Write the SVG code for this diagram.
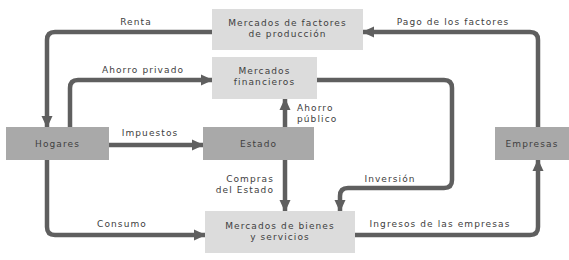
<svg xmlns="http://www.w3.org/2000/svg" width="569" height="260" viewBox="0 0 569 260">
<style>
.lt{fill:#dcdcdc}
.dk{fill:#a9a9a9}
.t{font-family:"DejaVu Sans",sans-serif;font-size:9px;letter-spacing:1.1px;fill:#404040}
.c{text-anchor:middle}
.e{text-anchor:end}
.ln{fill:none;stroke:#5f5f5f;stroke-width:4.5;stroke-linejoin:round;marker-end:url(#ah)}
</style>
<defs>
<marker id="ah" markerUnits="userSpaceOnUse" viewBox="0 0 12 12" refX="11" refY="6" markerWidth="12" markerHeight="12" orient="auto">
<path d="M0,0.5 L12,6 L0,11.5 Z" fill="#5f5f5f"/>
</marker>
</defs>
<rect width="569" height="260" fill="#fff"/>
<g id="connectors">
<path class="ln" d="M212,32 H55 Q47,32 47,40 V127"/>
<path class="ln" d="M70,127 V88 Q70,80 78,80 H212"/>
<path class="ln" d="M538,127 V40 Q538,32 530,32 H363"/>
<path class="ln" d="M317,80 H444 Q452,80 452,88 V180 Q452,188 444,188 H348 Q340,188 340,196 V211"/>
<path class="ln" d="M285,127 V99"/>
<path class="ln" d="M109,145 H203"/>
<path class="ln" d="M285,160 V211"/>
<path class="ln" d="M47,160 V227 Q47,235 55,235 H205"/>
<path class="ln" d="M355,235 H530 Q538,235 538,227 V160"/>
</g>
<g id="mercados-factores"><rect class="lt" x="212" y="9" width="151" height="41"/><text class="t c" x="287.5" y="26">Mercados de factores</text><text class="t c" x="287.5" y="37">de producción</text></g>
<g id="mercados-financieros"><rect class="lt" x="212" y="57" width="105" height="42"/><text class="t c" x="264.5" y="74">Mercados</text><text class="t c" x="264.5" y="85">financieros</text></g>
<g id="hogares"><rect class="dk" x="6" y="127" width="103" height="33"/><text class="t c" x="57.5" y="147">Hogares</text></g>
<g id="estado"><rect class="dk" x="203" y="127" width="111" height="33"/><text class="t c" x="258.5" y="147">Estado</text></g>
<g id="empresas"><rect class="dk" x="495" y="127" width="74" height="33"/><text class="t c" x="532" y="147">Empresas</text></g>
<g id="mercados-bienes"><rect class="lt" x="205" y="211" width="150" height="42"/><text class="t c" x="280" y="229">Mercados de bienes</text><text class="t c" x="280" y="240">y servicios</text></g>
<g id="labels">
<text class="t c" x="136" y="25">Renta</text>
<text class="t c" x="143" y="73">Ahorro privado</text>
<text class="t c" x="453" y="25">Pago de los factores</text>
<text class="t" x="297" y="111">Ahorro</text>
<text class="t" x="297" y="122">público</text>
<text class="t c" x="150" y="136">Impuestos</text>
<text class="t e" x="274" y="182">Compras</text>
<text class="t e" x="274" y="193">del Estado</text>
<text class="t c" x="390" y="182">Inversión</text>
<text class="t c" x="122" y="227">Consumo</text>
<text class="t c" x="440" y="227">Ingresos de las empresas</text>
</g>
</svg>
